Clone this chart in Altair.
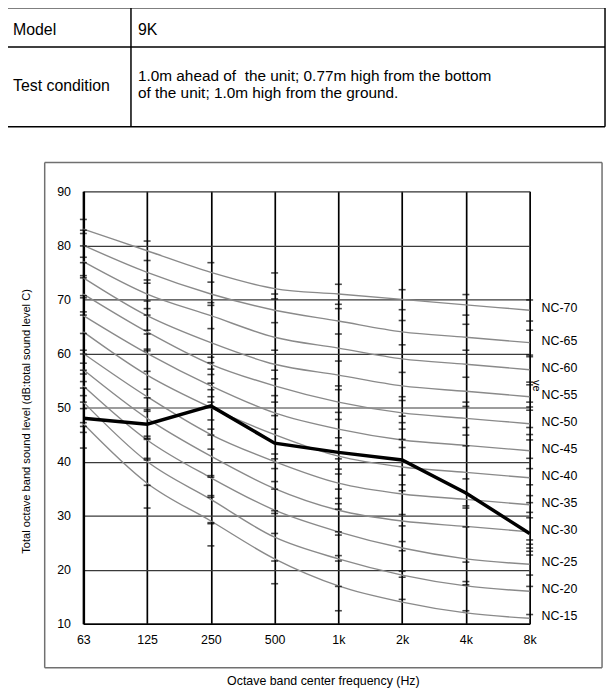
import altair as alt
import pandas as pd

FONT = "Liberation Sans, Arial, sans-serif"

freqs = ["63", "125", "250", "500", "1k", "2k", "4k", "8k"]

nc_names = ["NC-15", "NC-20", "NC-25", "NC-30", "NC-35", "NC-40",
            "NC-45", "NC-50", "NC-55", "NC-60", "NC-65", "NC-70"]
nc_values = [
    [47, 36, 29, 22, 17, 14, 12, 11],
    [51, 40, 33, 26, 22, 19, 17, 16],
    [54, 44, 37, 31, 27, 24, 22, 21],
    [57, 48, 41, 35, 31, 29, 28, 27],
    [60, 52, 45, 40, 36, 34, 33, 32],
    [64, 56, 50, 45, 41, 39, 38, 37],
    [67, 60, 54, 49, 46, 44, 43, 42],
    [71, 64, 58, 54, 51, 49, 48, 47],
    [74, 67, 62, 58, 56, 54, 53, 52],
    [77, 71, 67, 63, 61, 59, 58, 57],
    [80, 75, 71, 68, 66, 64, 63, 62],
    [83, 79, 75, 72, 71, 70, 69, 68],
]

measured = [48.0, 46.9, 50.3, 43.4, 41.7, 40.3, 34.2, 26.7]

tick_marks = {
    "63": [84.8, 82.8, 82.2, 79.9, 77.8, 76.8, 74.4, 74.0, 70.7, 70.3, 67.7, 67.1,
           63.7, 60.6, 59.9, 58.2, 56.9, 56.2, 54.8, 53.6, 52.2, 51.0, 49.8,
           47.2, 46.5, 45.4, 42.5],
    "125": [80.8, 77.2, 73.6, 73.0, 69.7, 68.3, 67.1, 64.3, 63.6, 60.8, 60.5,
            56.7, 53.4, 51.8, 49.6, 49.3, 44.7, 44.3, 44.1, 40.6, 40.3, 35.6, 31.4],
    "250": [76.8, 73.2, 69.4, 68.9, 64.6, 59.3, 58.3, 57.1, 56.1, 54.5, 53.3,
            52.0, 51.0, 47.7, 46.0, 44.9, 42.3, 37.4, 37.1, 33.7, 33.4, 28.7,
            28.5, 24.4],
    "500": [74.9, 71.0, 70.1, 65.7, 60.6, 56.9, 55.3, 52.2, 51.0, 48.5, 46.0,
            41.4, 40.5, 38.7, 36.3, 34.9, 30.9, 30.4, 26.7, 21.6, 17.4],
    "1k": [72.8, 69.1, 68.3, 63.6, 58.6, 54.0, 53.3, 49.1, 47.8, 44.4, 43.0,
           40.5, 38.6, 37.7, 34.9, 33.2, 32.2, 31.2, 27.0, 26.4, 22.6, 21.6,
           16.9, 12.4],
    "2k": [71.8, 68.1, 66.1, 61.6, 56.5, 52.0, 51.3, 48.4, 47.2, 46.0, 44.1,
           42.6, 37.5, 35.7, 34.6, 30.2, 28.1, 25.2, 23.5, 19.7, 18.6, 14.5],
    "4k": [70.9, 67.1, 65.4, 60.6, 55.6, 51.0, 50.2, 46.3, 44.9, 42.9, 36.8,
           31.8, 31.4, 27.9, 21.4, 17.8, 17.2, 12.4],
    "8k": [69.9, 66.0, 64.3, 59.7, 59.4, 54.7, 54.2, 51.0, 50.1, 49.5, 46.3,
           45.0, 44.0, 40.6, 38.7, 35.7, 33.7, 32.4, 30.6, 29.6, 25.5, 24.7,
           24.0, 23.4, 22.7, 19.0, 16.9, 11.7],
}

y_ticks = [10, 20, 30, 40, 50, 60, 70, 80, 90]

model_label = "Model"
model_value = "9K"
cond_label = "Test condition"
cond_value = ["1.0m ahead of \u00a0the unit; 0.77m high from the bottom",
              "of the unit; 1.0m high from the ground."]
x_title = "Octave band center frequency (Hz)"
y_title = "Total octave band sound level (dB:total sound level C)"

# ---------------- data tables ----------------
nc_rows = []
for name, vals in zip(nc_names, nc_values):
    for f, v in zip(freqs, vals):
        nc_rows.append({"freq": f, "level": v, "nc": name})
nc_df = pd.DataFrame(nc_rows)

lab_df = pd.DataFrame({"freq": ["8k"] * len(nc_names),
                       "level": [v[-1] for v in nc_values],
                       "nc": nc_names})

meas_df = pd.DataFrame({"freq": freqs, "level": measured})

tick_rows = [{"freq": f, "level": v} for f, vs in tick_marks.items() for v in vs]
tick_df = pd.DataFrame(tick_rows)

W, H = 450, 436
OX, OY = 84, 190  # page position of plot origin (for decorations)

x_enc = alt.X("freq:N", sort=freqs,
              scale=alt.Scale(type="point", domain=freqs, padding=0),
              axis=alt.Axis(title=None, labelAngle=0, labelFontSize=12.5,
                            labelFont=FONT, labelColor="black", labelPadding=10,
                            ticks=False, domain=True, domainColor="black",
                            domainWidth=1.5, grid=True, gridColor="black",
                            gridWidth=1.7, gridOpacity=1))
y_enc = alt.Y("level:Q",
              scale=alt.Scale(domain=[10, 90], nice=False, zero=False),
              axis=alt.Axis(title=None, values=y_ticks, labelFontSize=12.5,
                            labelFont=FONT, labelColor="black", labelPadding=13,
                            ticks=False, domain=True, domainColor="black",
                            domainWidth=2.5, grid=True, gridColor="#3a3a3a",
                            gridWidth=1.2, gridOpacity=1))

nc_lines = alt.Chart(nc_df).mark_line(
    color="#8a8a8a", strokeWidth=1.4, interpolate="monotone"
).encode(x=x_enc, y=y_enc, detail="nc:N")

ticks = alt.Chart(tick_df).mark_tick(
    color="black", size=7, thickness=1.6
).encode(x=alt.X("freq:N", sort=freqs), y=alt.Y("level:Q"))

meas_line = alt.Chart(meas_df).mark_line(
    color="black", strokeWidth=3.5
).encode(x=alt.X("freq:N", sort=freqs), y=alt.Y("level:Q"))

nc_labels = alt.Chart(lab_df).mark_text(
    align="left", baseline="middle", dx=12, dy=-2, fontSize=12.5,
    font=FONT, color="black"
).encode(x=alt.X("freq:N", sort=freqs), y=alt.Y("level:Q"), text="nc:N")

one = pd.DataFrame({"a": [0]})


def hline(y, x1, x2, color="black", w=1.5):
    return alt.Chart(one).mark_rule(color=color, strokeWidth=w).encode(
        x=alt.value(x1 - OX), x2=alt.value(x2 - OX), y=alt.value(y - OY))


def vline(x, y1, y2, color="black", w=1.5):
    return alt.Chart(one).mark_rule(color=color, strokeWidth=w).encode(
        x=alt.value(x - OX), y=alt.value(y1 - OY), y2=alt.value(y2 - OY))


def text(t, x, y, size, align="left", angle=0):
    kw = dict(align=align, baseline="middle", fontSize=size, font=FONT,
              color="black")
    if angle:
        kw["angle"] = angle
    return alt.Chart(one).mark_text(**kw).encode(
        x=alt.value(x - OX), y=alt.value(y - OY), text=alt.value(t))


decor = [
    # table borders
    hline(5, 5, 610), hline(44.5, 5, 610), hline(125, 5, 610),
    vline(5.5, 5, 700), vline(610, 5, 125), vline(132, 5, 125),
    # chart frame
    hline(161, 45, 607, color="#707070", w=1.5),
    hline(670.5, 45, 607, color="#707070", w=1.5),
    vline(45, 161, 670.5, color="#707070", w=1.5),
    vline(607, 161, 670.5, color="#707070", w=1.5),
    # table texts
    text(model_label, 13, 27, 16),
    text(model_value, 139, 27, 16),
    text(cond_label, 13, 84, 16),
    text(cond_value[0], 139, 73.5, 15.5),
    text(cond_value[1], 139, 90.5, 15.5),
    # axis titles
    text(x_title, 326, 684, 12.5, align="center"),
    text(y_title, 27, 422, 11.2, align="center", angle=270),
    text("ve", 540, 386, 11, align="center", angle=90),
]

chart = alt.layer(nc_lines, ticks, meas_line, nc_labels, *decor).properties(
    width=W, height=H,
    autosize=alt.AutoSizeParams(type="none"),
    padding={"left": 76, "top": 182, "right": 78, "bottom": 66},
).configure_view(stroke=None).configure(background="white")

chart.save("out.html", embed_options={"renderer": "svg", "actions": False})
